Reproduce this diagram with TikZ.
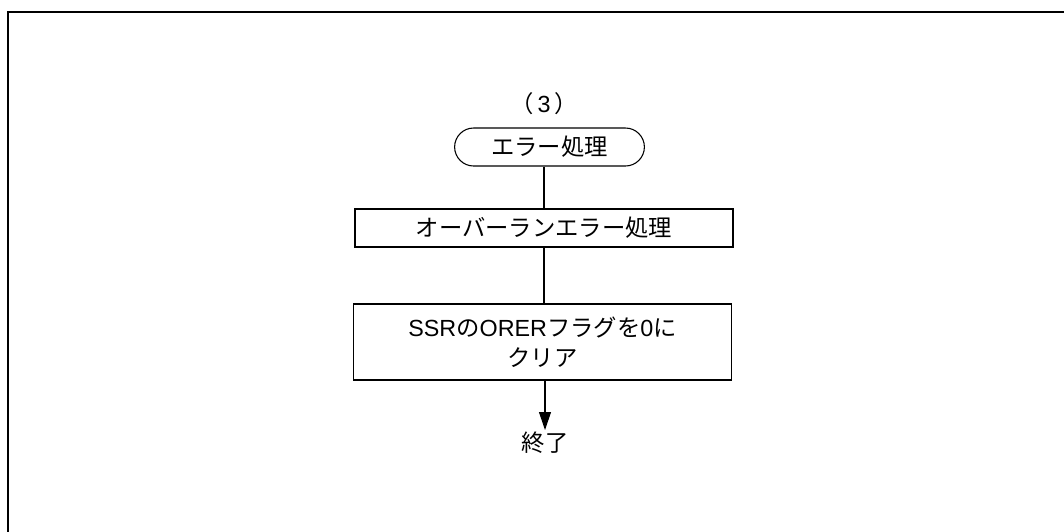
\documentclass[tikz,border=0pt]{standalone}
\usepackage{fontspec}
\setmainfont{Noto Sans CJK JP}
\newfontfamily\latinfont{Liberation Sans}
\newcommand{\lat}[1]{{\latinfont #1}}
\usetikzlibrary{shapes.misc,arrows.meta}

\tikzset{
  procbox/.style={draw, line width=0.8pt, minimum width=283.5pt, align=center},
  termbox/.style={draw, line width=0.8pt, rounded rectangle, minimum width=149pt, minimum height=28.5pt},
  flow/.style={line width=0.8pt},
}

\begin{document}
\begin{tikzpicture}[x=0.75pt, y=-0.75pt, font=\fontsize{17.5}{22.5}\selectfont]
    \useasboundingbox (0,0) rectangle (1064,532);
    % Rahmen
    \draw[line width=0.8pt] (8,532) -- (8,12) -- (1064,12);

    % Knoten
    \node (label) at (544,104) {（\,\lat{3}\,）};
    \node[termbox] (start) at (549.5,147) {エラー処理};
    \node[procbox, minimum height=28.5pt] (overrun) at (544,228) {オーバーランエラー処理};
    \node[procbox, minimum height=57pt] (clear) at (542.5,342) {\lat{SSR}の\lat{ORER}フラグを\lat{0}に\\クリア};
    \node[inner sep=1pt, anchor=north] (finish) at (545,430) {終了};

    % Verbindungen
    \draw[flow] (start.south -| overrun.north) -- (overrun.north);
    \draw[flow] (overrun.south) -- (overrun.south |- clear.north);
    \draw[flow, -{Triangle[width=9pt,length=13.5pt]}] (clear.south -| finish.north) -- (finish.north);
\end{tikzpicture}
\end{document}
